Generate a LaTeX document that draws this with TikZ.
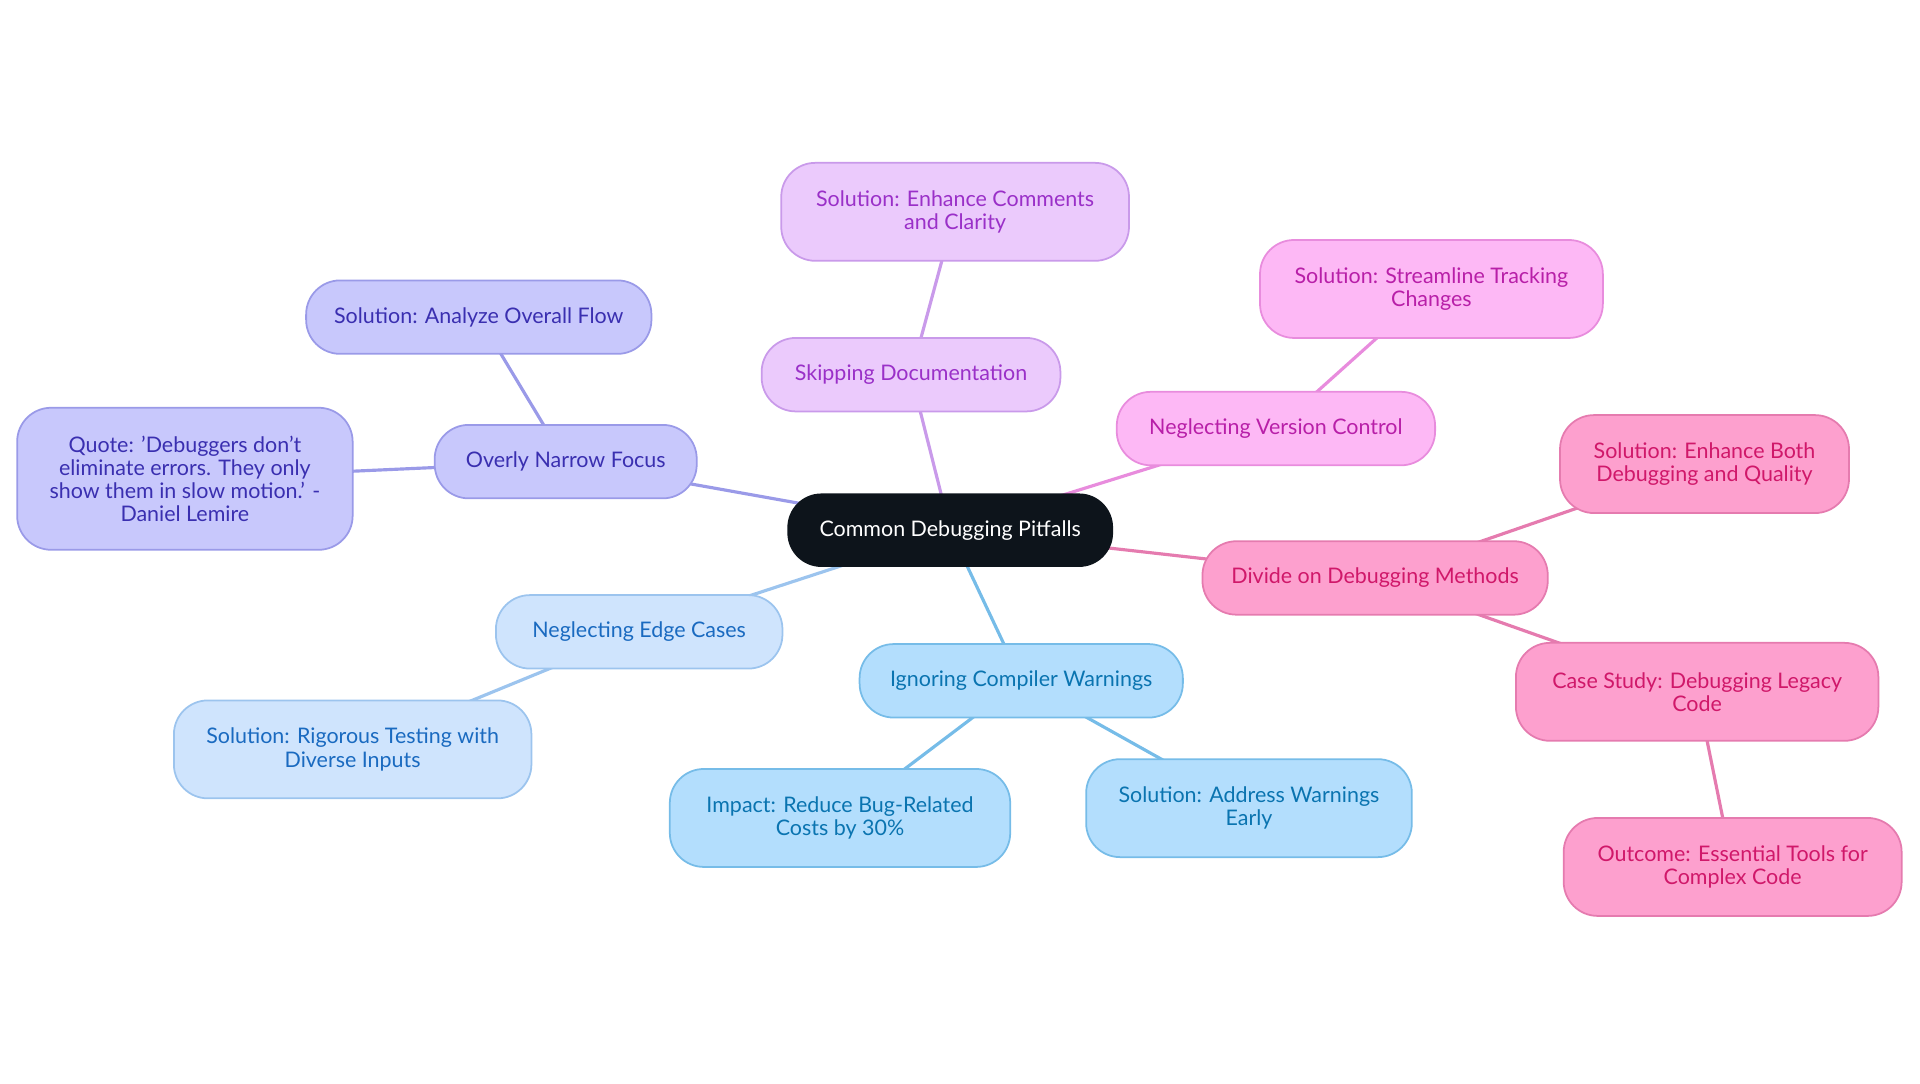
\documentclass[tikz,border=0pt]{standalone}
\usepackage{fontspec}
\setmainfont{Lato}
\usetikzlibrary{backgrounds}
\definecolor{rootfill}{HTML}{0D141B}
\definecolor{vioFill}{HTML}{C8C8FC}\definecolor{vioLine}{HTML}{9A9AE8}\definecolor{vioText}{HTML}{3A2FB0}
\definecolor{purFill}{HTML}{EBCAFC}\definecolor{purLine}{HTML}{C99AEA}\definecolor{purText}{HTML}{9A30C8}
\definecolor{magFill}{HTML}{FDB8F5}\definecolor{magLine}{HTML}{E88CDD}\definecolor{magText}{HTML}{B81FA8}
\definecolor{pinkFill}{HTML}{FDA0CE}\definecolor{pinkLine}{HTML}{E57BAF}\definecolor{pinkText}{HTML}{D0186A}
\definecolor{skyFill}{HTML}{B3DEFD}\definecolor{skyLine}{HTML}{76BCE8}\definecolor{skyText}{HTML}{0A74B0}
\definecolor{bluFill}{HTML}{CFE4FD}\definecolor{bluLine}{HTML}{9CC4EE}\definecolor{bluText}{HTML}{1A6AC0}
\tikzset{
  every node/.style={font=\fontsize{6.1}{6.6}\selectfont},
  bub/.style n args={3}{draw=#1Line, fill=#1Fill, text=#1Text, rounded corners=0.34cm,
    align=center, line width=0.5pt, minimum width={#2*0.012245cm}, minimum height={#3*0.012245cm}, inner sep=0pt},
  link/.style={draw=#1Line, line width=0.9pt}
}
\begin{document}
\begin{tikzpicture}[x=0.012245cm, y=-0.012245cm]
\useasboundingbox (0,0) rectangle (1568,884.5);
\node[fill=rootfill, text=white, rounded corners=0.34cm, minimum width={266*0.012245cm}, minimum height={60*0.012245cm}, inner sep=0pt] (Root) at (776,433) {Common Debugging Pitfalls};
% narrow focus
\node[bub={vio}{214}{60}] (Focus) at (462,377) {Overly Narrow Focus};
\node[bub={vio}{282}{60}] (FocusSol) at (391,259) {Solution: Analyze Overall Flow};
\node[bub={vio}{274}{116}] (FocusQuote) at (151,391) {Quote: 'Debuggers don't\\eliminate errors. They only\\show them in slow motion.' -\\Daniel Lemire};
% documentation
\node[bub={pur}{244}{60}] (Docs) at (744,306) {Skipping Documentation};
\node[bub={pur}{284}{80}] (DocsSol) at (780,173) {Solution: Enhance Comments\\and Clarity};
% version control
\node[bub={mag}{260}{60}] (Vcs) at (1042,350) {Neglecting Version Control};
\node[bub={mag}{280}{80}] (VcsSol) at (1169,236) {Solution: Streamline Tracking\\Changes};
% methods
\node[bub={pink}{282}{60}] (Divide) at (1123,472) {Divide on Debugging Methods};
\node[bub={pink}{236}{80}] (DivideSol) at (1392,379) {Solution: Enhance Both\\Debugging and Quality};
\node[bub={pink}{296}{80}] (Legacy) at (1386,565) {Case Study: Debugging Legacy\\Code};
\node[bub={pink}{276}{80}] (Outcome) at (1415,708) {Outcome: Essential Tools for\\Complex Code};
% warnings
\node[bub={sky}{264}{60}] (Warn) at (834,556) {Ignoring Compiler Warnings};
\node[bub={sky}{278}{80}] (WarnImpact) at (686,668) {Impact: Reduce Bug-Related\\Costs by 30\%};
\node[bub={sky}{266}{80}] (WarnSol) at (1020,660) {Solution: Address Warnings\\Early};
% edge cases
\node[bub={blu}{234}{60}] (Edge) at (522,516) {Neglecting Edge Cases};
\node[bub={blu}{292}{80}] (EdgeSol) at (288,612) {Solution: Rigorous Testing with\\Diverse Inputs};

\begin{scope}[on background layer]
\draw[link=vio] (Root.center) -- (Focus.center) -- (FocusSol.center);
\draw[link=vio] (Focus.center) -- (FocusQuote.center);
\draw[link=pur] (Root.center) -- (Docs.center) -- (DocsSol.center);
\draw[link=mag] (Root.center) -- (Vcs.center) -- (VcsSol.center);
\draw[link=pink] (Root.center) -- (Divide.center) -- (DivideSol.center);
\draw[link=pink] (Divide.center) -- (Legacy.center) -- (Outcome.center);
\draw[link=sky] (Root.center) -- (Warn.center) -- (WarnImpact.center);
\draw[link=sky] (Warn.center) -- (WarnSol.center);
\draw[link=blu] (Root.center) -- (Edge.center) -- (EdgeSol.center);
\end{scope}
\end{tikzpicture}
\end{document}
